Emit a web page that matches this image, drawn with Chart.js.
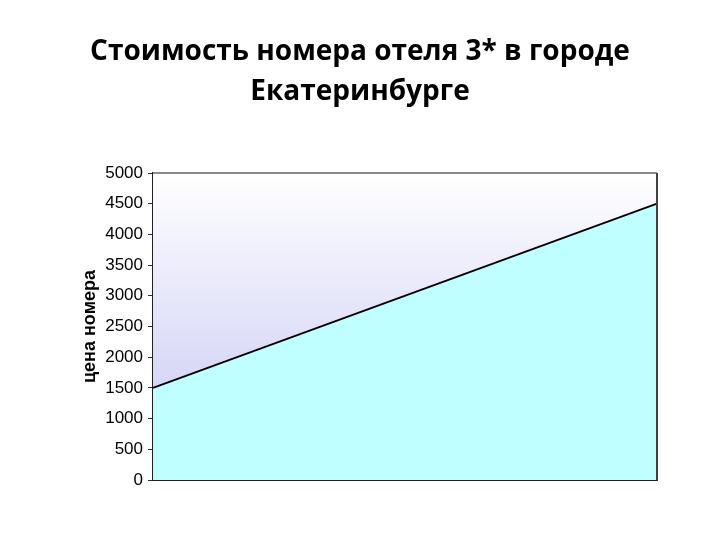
<!DOCTYPE html>
<html>
<head>
<meta charset="utf-8">
<script src="https://cdn.jsdelivr.net/npm/chart.js@4"></script>
<style>
  html, body { margin: 0; padding: 0; background: #fff; }
  #wrap { width: 720px; height: 540px; }
</style>
</head>
<body>
<div id="wrap"><canvas id="myChart" width="720" height="540"></canvas></div>
<script>
// chart data
const categories = ['1', '2'];
const prices = [1500, 4500];
const yTicks = [0, 500, 1000, 1500, 2000, 2500, 3000, 3500, 4000, 4500, 5000];

const titleLines = ['Стоимость номера отеля 3* в городе', 'Екатеринбурге'];
const axisTitle = 'цена номера';

// plot background gradient + frame lines (top grey, right dark)
const plotFrame = {
    id: 'plotFrame',
    beforeDatasetsDraw(chart) {
        const { ctx, chartArea: a } = chart;
        const g = ctx.createLinearGradient(0, a.top, 0, a.bottom);
        g.addColorStop(0, '#ffffff');
        g.addColorStop(1, 'rgb(196,196,244)');
        ctx.save();
        ctx.fillStyle = g;
        ctx.fillRect(a.left, a.top, a.right - a.left, a.bottom - a.top);
        ctx.restore();
    },
    afterDraw(chart) {
        const { ctx, chartArea: a } = chart;
        ctx.save();
        ctx.lineWidth = 2;
        ctx.strokeStyle = '#8c8c8c';
        ctx.beginPath();
        ctx.moveTo(a.left, a.top);
        ctx.lineTo(a.right, a.top);
        ctx.stroke();
        ctx.strokeStyle = '#404040';
        ctx.beginPath();
        ctx.moveTo(a.right, a.top);
        ctx.lineTo(a.right, a.bottom);
        ctx.stroke();
        ctx.restore();
    }
};

new Chart(document.getElementById('myChart'), {
    type: 'line',
    data: {
        labels: categories,
        datasets: [{
            data: prices,
            borderColor: '#000',
            borderWidth: 1.8,
            backgroundColor: '#c0ffff',
            fill: 'origin',
            pointRadius: 0,
            tension: 0
        }]
    },
    options: {
        responsive: false,
        animation: false,
        layout: { padding: { left: 63, right: 63, top: 0, bottom: 60 } },
        plugins: {
            legend: { display: false },
            tooltip: { enabled: false },
            title: {
                display: true,
                text: titleLines,
                color: '#000',
                font: { family: 'Open Sans', size: 28, weight: '700', lineHeight: '40px' },
                padding: { top: 32, bottom: 61 }
            }
        },
        scales: {
            x: {
                offset: false,
                ticks: { display: false },
                grid: { display: false },
                border: { display: true, color: '#202020', width: 2 },
                afterFit(s) { s.height = 0; }
            },
            y: {
                min: 0,
                max: 5000,
                afterBuildTicks(s) { s.ticks = yTicks.map(v => ({ value: v })); },
                ticks: {
                    color: '#000',
                    font: { family: 'Liberation Sans', size: 17 },
                    padding: 5,
                    callback: v => String(v)
                },
                grid: {
                    drawOnChartArea: false,
                    drawTicks: true,
                    tickLength: 5,
                    color: '#303030'
                },
                border: { display: true, color: '#202020', width: 2 },
                title: {
                    display: true,
                    text: axisTitle,
                    color: '#000',
                    font: { family: 'Liberation Sans', size: 18, weight: 'bold' },
                    padding: { top: 16, bottom: 0 }
                },
                afterFit(s) { s.width = 90; }
            }
        }
    },
    plugins: [plotFrame]
});
</script>
</body>
</html>
